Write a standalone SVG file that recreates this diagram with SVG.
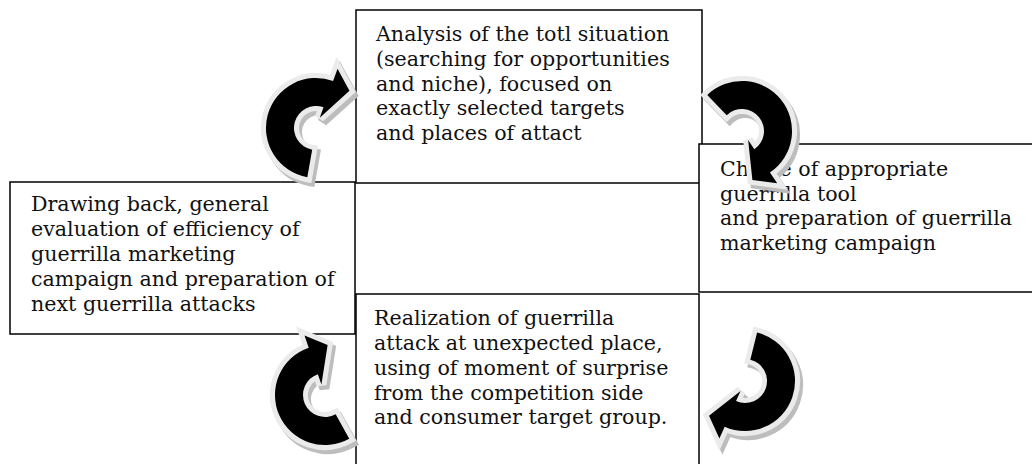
<svg xmlns="http://www.w3.org/2000/svg" xmlns:xlink="http://www.w3.org/1999/xlink" width="1032" height="464" viewBox="0 0 1032 464">
<style>
.box{fill:#ffffff;stroke:#000000;stroke-width:1.5}
.t{font-family:"DejaVu Serif","Liberation Serif",serif;font-size:20.6px;fill:#111111}
.shadow{fill:#bdbdbd;stroke:#bdbdbd;stroke-width:10;stroke-linejoin:miter}
.rim{fill:#ebebeb;stroke:#ebebeb;stroke-width:10;stroke-linejoin:miter}
.body{fill:#000000}
</style>
<defs>
<path id="carrow" d="M -8.68 49.24 A 50 50 0 1 1 17.10 -46.98 L 21.55 -59.20 L 33.46 -37.16 L 3.76 -10.34 L 7.52 -20.67 A 22 22 0 1 0 -3.82 21.67 Z"/>
</defs>
<rect width="1032" height="464" fill="#ffffff"/>
<g id="node-analysis">
<rect class="box" x="356" y="10" width="346" height="173"/>
<text class="t" x="376" y="41">Analysis of the totl situation</text>
<text class="t" x="376" y="66">(searching for opportunities</text>
<text class="t" x="376" y="91">and niche), focused on</text>
<text class="t" x="376" y="115">exactly selected targets</text>
<text class="t" x="376" y="140">and places of attact</text>
</g>
<g id="node-drawing-back">
<rect class="box" x="10" y="182" width="345" height="152"/>
<text class="t" x="31" y="211">Drawing back, general</text>
<text class="t" x="31" y="236">evaluation of efficiency of</text>
<text class="t" x="31" y="261">guerrilla marketing</text>
<text class="t" x="31" y="286">campaign and preparation of</text>
<text class="t" x="31" y="311">next guerrilla attacks</text>
</g>
<g id="node-choice">
<rect class="box" x="699" y="144" width="345" height="148"/>
<text class="t" x="720" y="176">Choice of appropriate</text>
<text class="t" x="720" y="200.5">guerrilla tool</text>
<text class="t" x="720" y="225">and preparation of guerrilla</text>
<text class="t" x="720" y="249.5">marketing campaign</text>
</g>
<g id="node-realization">
<rect class="box" x="356" y="294" width="343" height="185"/>
<text class="t" x="374" y="325">Realization of guerrilla</text>
<text class="t" x="374" y="350">attack at unexpected place,</text>
<text class="t" x="374" y="375">using of moment of surprise</text>
<text class="t" x="374" y="400">from the competition side</text>
<text class="t" x="374" y="424">and consumer target group.</text>
</g>
<g id="connectors">
<g id="arrow-1">
<use xlink:href="#carrow" class="shadow" transform="translate(319,132) rotate(0)"/>
<use xlink:href="#carrow" class="rim" transform="translate(316,128) rotate(0)"/>
<use xlink:href="#carrow" class="body" transform="translate(316,128) rotate(0)"/>
</g>
<g id="arrow-2">
<use xlink:href="#carrow" class="shadow" transform="translate(745,135) rotate(126)"/>
<use xlink:href="#carrow" class="rim" transform="translate(742,131) rotate(126)"/>
<use xlink:href="#carrow" class="body" transform="translate(742,131) rotate(126)"/>
</g>
<g id="arrow-3">
<use xlink:href="#carrow" class="shadow" transform="translate(328,399) rotate(-39)"/>
<use xlink:href="#carrow" class="rim" transform="translate(325,395) rotate(-39)"/>
<use xlink:href="#carrow" class="body" transform="translate(325,395) rotate(-39)"/>
</g>
<g id="arrow-4">
<use xlink:href="#carrow" class="shadow" transform="translate(748,385) rotate(184)"/>
<use xlink:href="#carrow" class="rim" transform="translate(745,381) rotate(184)"/>
<use xlink:href="#carrow" class="body" transform="translate(745,381) rotate(184)"/>
</g>
</g>
</svg>
